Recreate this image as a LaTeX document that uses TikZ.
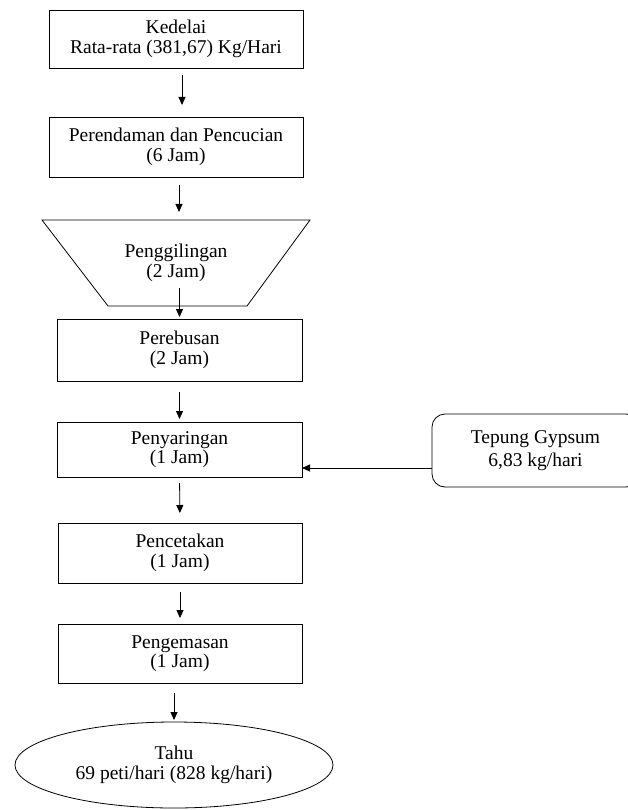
\documentclass[tikz,border=0pt]{standalone}
\usepackage{fontspec}
\setmainfont{Liberation Serif}
\usepackage{tikz}
\usetikzlibrary{arrows.meta,calc,positioning,shapes.geometric}

\begin{document}
\begin{tikzpicture}[x=1pt,y=-1pt,font=\fontsize{19.5}{19.5}\selectfont,
      proses/.style={draw,line width=0.8pt,align=center,inner sep=0pt,outer sep=0pt},
      bahan/.style={proses,rounded corners=13pt},
      hasil/.style={proses,ellipse},
      alur/.style={draw,line width=0.8pt,-{Triangle[length=8pt,width=7pt]}}]
      \useasboundingbox (0,0) rectangle (627,810);
      \node[proses,minimum width=254,minimum height=58] (kedelai) at (176,39)
        {Kedelai\\Rata-rata (381,67) Kg/Hari};
      \node[proses,minimum width=254,minimum height=60] (rendam) at (176,147)
        {Perendaman dan Pencucian\\(6 Jam)};
      \node[proses,draw=none,minimum width=268,minimum height=86] (giling) at (176,263)
        {Penggilingan\\(2 Jam)};
      \draw[line width=0.8pt] (giling.north west) -- (giling.north east)
        -- ([xshift=-63pt]giling.south east) -- ([xshift=66pt]giling.south west) -- cycle;
      \node[proses,minimum width=245,minimum height=62] (rebus) at (179.5,350)
        {Perebusan\\(2 Jam)};
      \node[proses,minimum width=245,minimum height=55] (saring) at (179.5,449.5)
        {Penyaringan\\(1 Jam)};
      \node[proses,minimum width=244,minimum height=60] (cetak) at (180,553)
        {Pencetakan\\(1 Jam)};
      \node[proses,minimum width=244,minimum height=59] (kemas) at (180,653.5)
        {Pengemasan\\(1 Jam)};
      \node[hasil,minimum width=318,minimum height=86] (tahu) at (174,765)
        {Tahu\\69 peti/hari (828 kg/hari)};
      \node[bahan,minimum width=207,minimum height=73] (gipsum) at (535.5,450.5)
        {Tepung Gypsum\\[3pt]6,83 kg/hari};
      % aliran proses
      \draw[alur,shorten <=7pt,shorten >=12pt] ([xshift=6pt]kedelai.south) -- ([xshift=6pt]rendam.north);
      \draw[alur,shorten <=8pt,shorten >=8pt] ([xshift=3pt]rendam.south) -- ([xshift=3pt]giling.north);
      \draw[alur,shorten >=2pt] ([yshift=18pt]rebus.north |- giling.south) -- (rebus.north);
      \draw[alur,shorten <=11pt,shorten >=3pt] (rebus.south) -- (saring.north);
      \draw[alur,shorten <=6pt,shorten >=10pt] (saring.south) -- (cetak.north);
      \draw[alur,shorten <=9pt,shorten >=6pt] (cetak.south) -- (kemas.north);
      \draw[alur,shorten <=10pt,shorten >=2pt] (kemas.south -| tahu.north) -- (tahu.north);
      \draw[alur] ([yshift=-17.5pt]gipsum.west) -- ([yshift=-17.5pt]gipsum.west -| saring.east);
\end{tikzpicture}
\end{document}
